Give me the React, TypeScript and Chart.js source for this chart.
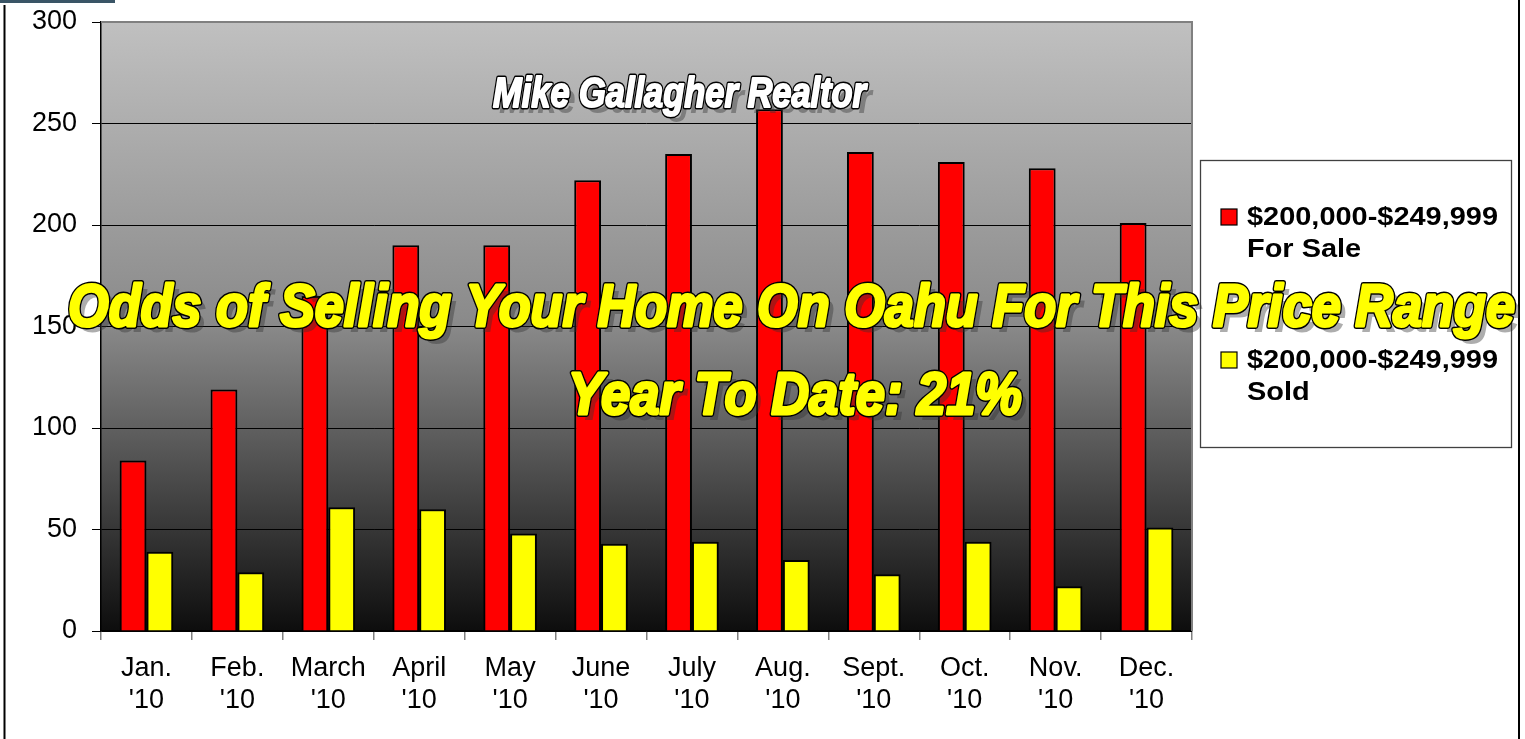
import React, { useEffect, useRef } from "react";
import { Chart, registerables } from "chart.js";

Chart.register(...registerables);

// ---- data ----
const categories: string[][] = [
  ["Jan.", "'10"], ["Feb.", "'10"], ["March", "'10"], ["April", "'10"],
  ["May", "'10"], ["June", "'10"], ["July", "'10"], ["Aug.", "'10"],
  ["Sept.", "'10"], ["Oct.", "'10"], ["Nov.", "'10"], ["Dec.", "'10"],
];
const forSale: number[] = [84, 119, 165, 190, 190, 222, 235, 257, 236, 231, 228, 201];
const sold: number[] = [39, 29, 61, 60, 48, 43, 44, 35, 28, 44, 22, 51];
const seriesNames: string[] = [
  "$200,000-$249,999\nFor Sale",
  "$200,000-$249,999\nSold",
];
const seriesColors: string[] = ["#ff0000", "#ffff00"];
const yMin = 0;
const yMax = 300;
const yStep = 50;
const brandText = "Mike Gallagher Realtor";
const mainTitle = "Odds of Selling Your Home On Oahu For This Price Range";
const subTitle = "Year To Date: 21%";

const FONT = '"Liberation Sans", Arial, sans-serif';

function fancyText(
  ctx: CanvasRenderingContext2D,
  text: string,
  cx: number,
  baseline: number,
  size: number,
  width: number,
  fill: string,
  lw: number
) {
  ctx.save();
  ctx.font = `italic bold ${size}px ${FONT}`;
  const w = ctx.measureText(text).width;
  const sx = width / w;
  ctx.textAlign = "center";
  ctx.textBaseline = "alphabetic";
  ctx.translate(cx, baseline);
  ctx.scale(sx, 1);
  ctx.lineJoin = "round";
  // shadow
  ctx.fillStyle = "rgba(50,50,50,0.4)";
  ctx.fillText(text, 6 / sx, 6);
  // outline
  ctx.lineWidth = lw;
  ctx.strokeStyle = "#000";
  ctx.strokeText(text, 0, 0);
  // thickened fill
  ctx.lineWidth = lw - 3;
  ctx.strokeStyle = fill;
  ctx.strokeText(text, 0, 0);
  ctx.fillStyle = fill;
  ctx.fillText(text, 0, 0);
  ctx.restore();
}

const decorPlugin = {
  id: "decor",
  beforeDraw(chart: any) {
    const { ctx, chartArea: a, width, height } = chart;
    ctx.save();
    ctx.fillStyle = "#fff";
    ctx.fillRect(0, 0, width, height);
    const g = ctx.createLinearGradient(0, a.top, 0, a.bottom);
    g.addColorStop(0, "#c0c0c0");
    g.addColorStop(0.5, "#898989");
    g.addColorStop(1, "#0d0d0d");
    ctx.fillStyle = g;
    ctx.fillRect(a.left, a.top, a.right - a.left, a.bottom - a.top);
    // outer frame
    ctx.fillStyle = "#3a5566";
    ctx.fillRect(0, 0, 115, 3);
    ctx.strokeStyle = "#000";
    ctx.lineWidth = 2;
    ctx.beginPath();
    ctx.moveTo(4.5, 5);
    ctx.lineTo(4.5, height);
    ctx.moveTo(1519, 0);
    ctx.lineTo(1519, height);
    ctx.stroke();
    ctx.restore();
  },
  afterDatasetsDraw(chart: any) {
    const { ctx, chartArea: a } = chart;
    ctx.save();
    ctx.strokeStyle = "#808080";
    ctx.lineWidth = 2;
    ctx.beginPath();
    ctx.moveTo(a.left, a.top);
    ctx.lineTo(a.right, a.top);
    ctx.lineTo(a.right, a.bottom);
    ctx.stroke();
    ctx.restore();
  },
  afterDraw(chart: any) {
    const { ctx } = chart;
    // legend
    ctx.save();
    ctx.strokeStyle = "#404040";
    ctx.lineWidth = 1.3;
    ctx.fillStyle = "#fff";
    ctx.fillRect(1200.5, 160.5, 311, 287);
    ctx.strokeRect(1200.5, 160.5, 311, 287);
    const itemY = [225, 368];
    chart.data.datasets.forEach((ds: any, i: number) => {
      const y = itemY[i];
      ctx.fillStyle = ds.backgroundColor;
      ctx.strokeStyle = "#000";
      ctx.lineWidth = 1.2;
      ctx.fillRect(1221, y - 16, 16, 16);
      ctx.strokeRect(1221, y - 16, 16, 16);
      const lines = String(ds.label).split("\n");
      ctx.font = `bold 25px ${FONT}`;
      const w0 = ctx.measureText(lines[0]).width;
      const sx = 251 / w0;
      ctx.fillStyle = "#000";
      ctx.textAlign = "left";
      ctx.textBaseline = "alphabetic";
      lines.forEach((ln: string, k: number) => {
        ctx.save();
        ctx.translate(1247, y + k * 32);
        ctx.scale(sx, 1);
        ctx.fillText(ln, 0, 0);
        ctx.restore();
      });
    });
    ctx.restore();
    // titles
    fancyText(ctx, brandText, 679.5, 107, 42, 373, "#ffffff", 5);
    fancyText(ctx, mainTitle, 791.5, 326, 60, 1447, "#ffff00", 6);
    fancyText(ctx, subTitle, 795, 414, 60, 454, "#ffff00", 6);
  },
};

export default function App() {
  const ref = useRef<HTMLCanvasElement | null>(null);
  useEffect(() => {
    if (!ref.current) return;
    const chart = new Chart(ref.current, {
      type: "bar",
      data: {
        labels: categories,
        datasets: [
          {
            label: seriesNames[0],
            data: forSale,
            backgroundColor: seriesColors[0],
            borderColor: "#000",
            borderWidth: 2,
            categoryPercentage: 0.59,
            barPercentage: 1,
          },
          {
            label: seriesNames[1],
            data: sold,
            backgroundColor: seriesColors[1],
            borderColor: "#000",
            borderWidth: 2,
            categoryPercentage: 0.59,
            barPercentage: 1,
          },
        ],
      },
      options: {
        animation: false,
        responsive: true,
        maintainAspectRatio: false,
        layout: { padding: { left: 0, right: 333, top: 22, bottom: 0 } },
        plugins: {
          legend: { display: false },
          tooltip: { enabled: false },
          title: { display: false },
        },
        scales: {
          x: {
            offset: true,
            grid: {
              offset: true,
              drawOnChartArea: false,
              drawTicks: true,
              tickLength: 9,
              tickColor: "#808080",
              lineWidth: 1.5,
            },
            border: { display: true, color: "#000", width: 1.5 },
            ticks: {
              color: "#000",
              padding: 12,
              maxRotation: 0,
              autoSkip: false,
              font: { family: FONT, size: 27, lineHeight: 1.19 },
            },
            afterFit: (s: any) => {
              s.height = 108;
              s.paddingLeft = 0;
              s.paddingRight = 0;
            },
          },
          y: {
            min: yMin,
            max: yMax,
            grid: {
              color: "#000",
              lineWidth: 1,
              tickLength: 9,
              tickColor: "#000",
            },
            border: { display: true, color: "#000", width: 1.5 },
            ticks: {
              stepSize: yStep,
              color: "#000",
              padding: 15,
              font: { family: FONT, size: 27 },
            },
            afterFit: (s: any) => {
              s.width = 101;
              s.paddingTop = 0;
              s.paddingBottom = 0;
            },
          },
        },
      },
      plugins: [decorPlugin],
    });
    return () => chart.destroy();
  }, []);
  return (
    <div style={{ position: "absolute", left: 0, top: 0, width: 1525, height: 739 }}>
      <canvas ref={ref} />
    </div>
  );
}
